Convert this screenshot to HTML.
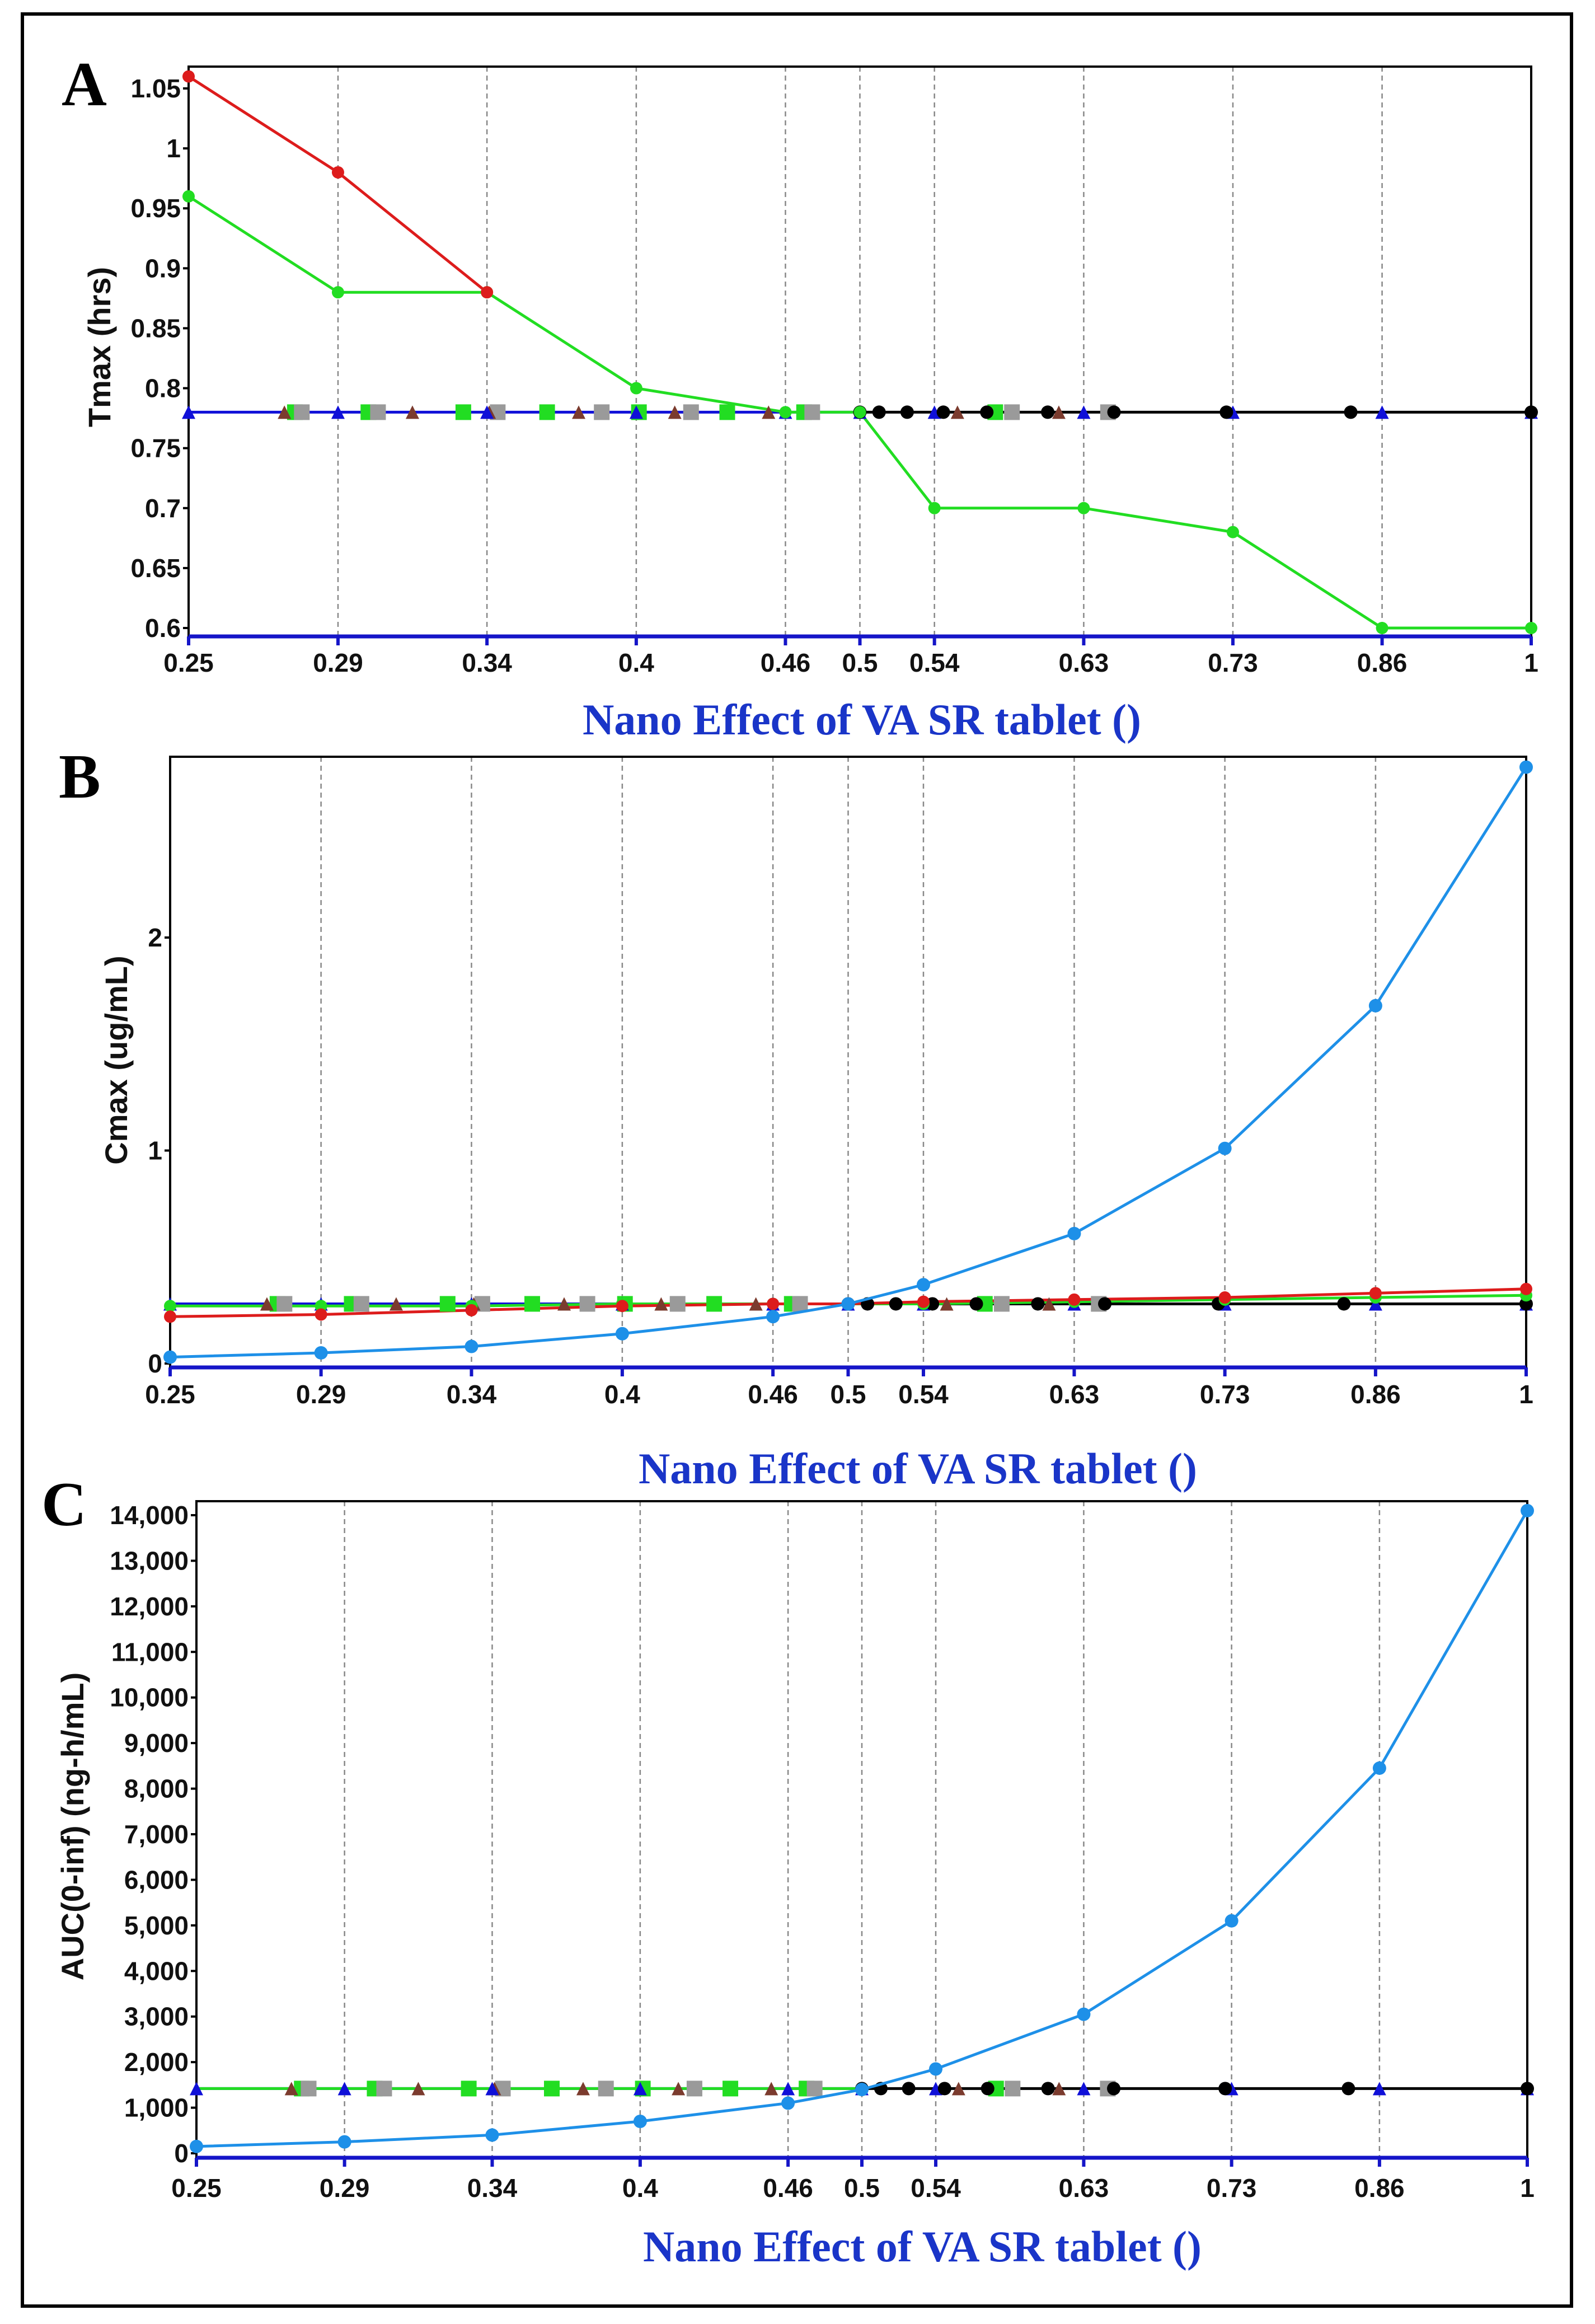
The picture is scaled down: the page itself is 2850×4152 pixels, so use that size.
<!DOCTYPE html>
<html><head><meta charset="utf-8">
<style>
html,body{margin:0;padding:0;background:#fff;}
svg{display:block;}
</style></head>
<body>
<svg id="fig" width="2850" height="4152" viewBox="0 0 2850 4152" xmlns="http://www.w3.org/2000/svg">
<rect x="0" y="0" width="2850" height="4152" fill="#fff"/>
<rect x="40" y="25" width="2768" height="4095" fill="none" stroke="#000" stroke-width="6"/>
</svg>
<script>
// shared x categories (nano effect)
const xTicks = [0.25,0.2917,0.3402,0.3969,0.463,0.5,0.54,0.63,0.7349,0.8573,1];
const xTickLabels = ["0.25","0.29","0.34","0.4","0.46","0.5","0.54","0.63","0.73","0.86","1"];
// scatter marker positions along flat baseline
const greenSqX = [0.279,0.301,0.332,0.362,0.398,0.436,0.472,0.575];
const brownTriX = [0.276,0.315,0.341,0.374,0.413,0.455,0.553,0.614];
const graySqX = [0.281,0.304,0.344,0.383,0.42,0.476,0.585,0.646];
const blackDotX = [0.5,0.51,0.525,0.545,0.57,0.607,0.65,0.73,0.83,1];
// Panel A (Tmax)
const aTicks = [1.05,1,0.95,0.9,0.85,0.8,0.75,0.7,0.65,0.6];
const aTickLabels = ["1.05","1","0.95","0.9","0.85","0.8","0.75","0.7","0.65","0.6"];
const aRedX = [0.25,0.2917,0.3402];
const aRed = [1.06,0.98,0.88];
const aGreen = [0.96,0.88,0.88,0.80,0.78,0.78,0.70,0.70,0.68,0.60,0.60];
const aBase = 0.78;
// Panel B (Cmax)
const bTicks = [0,1,2];
const bTickLabels = ["0","1","2"];
const bLightBlue = [0.03,0.05,0.08,0.14,0.22,0.28,0.37,0.61,1.01,1.68,2.8];
const bRed = [0.22,0.23,0.25,0.27,0.28,0.28,0.29,0.30,0.31,0.33,0.35];
const bGreen = [0.27,0.27,0.27,0.28,0.28,0.28,0.28,0.29,0.30,0.31,0.32];
const bBase = 0.28;
// Panel C (AUC)
const cTicks = [0,1000,2000,3000,4000,5000,6000,7000,8000,9000,10000,11000,12000,13000,14000];
const cTickLabels = ["0","1,000","2,000","3,000","4,000","5,000","6,000","7,000","8,000","9,000","10,000","11,000","12,000","13,000","14,000"];
const cLightBlue = [150,250,400,700,1100,1400,1850,3050,5100,8450,14100];
const cBase = 1420;

const NS="http://www.w3.org/2000/svg";
const svg=document.getElementById('fig');
function el(tag,attrs,parent,txt){const e=document.createElementNS(NS,tag);for(const k in attrs)e.setAttribute(k,attrs[k]);if(txt!==undefined)e.textContent=txt;(parent||svg).appendChild(e);return e;}

function makePanel(cfg){
  const g=el('g',{});
  
  
  const L=cfg.left,R=cfg.right,T=cfg.top,B=cfg.bottom;
  const xs=v=>L+(R-L)*Math.log(v/0.25)/Math.log(4);
  const ys=v=>cfg.y1px+(v-cfg.y1)*(cfg.y2px-cfg.y1px)/(cfg.y2-cfg.y1);
  xTicks.forEach((t,i)=>{ if(i===0||i===xTicks.length-1) return;
    const ln=el('line',{x1:xs(t),x2:xs(t),y1:T,y2:B,stroke:'#888','stroke-width':2.5,'stroke-dasharray':'9,7'},g);
    
    
  });
  const fr=el('path',{d:`M${L},${B} L${L},${T} L${R},${T} L${R},${B}`,fill:'none',stroke:'#000','stroke-width':4},g);
  
  
  const xa=el('line',{x1:L,x2:R,y1:B,y2:B,stroke:'#1515c8','stroke-width':7},g);
  
  
  xTicks.forEach((t,i)=>{
    el('line',{x1:xs(t),x2:xs(t),y1:B,y2:B+16,stroke:'#1515c8','stroke-width':6},g);
    const tx=el('text',{x:xs(t),y:B+cfg.xlOff,'text-anchor':'middle','font-family':'Liberation Sans, sans-serif','font-weight':'bold','font-size':46,fill:'#111'},g,xTickLabels[i]);
    
    
  });
  cfg.yTicks.forEach((t,i)=>{
    const y=ys(t);
    el('line',{x1:L-10,x2:L,y1:y,y2:y,stroke:'#000','stroke-width':4},g);
    const tx=el('text',{x:L-14,y:y+16,'text-anchor':'end','font-family':'Liberation Sans, sans-serif','font-weight':'bold','font-size':46,fill:'#111'},g,cfg.yLabels[i]);
    
    
  });
  const yt=el('text',{x:cfg.ytx,y:cfg.yty,transform:`rotate(-90 ${cfg.ytx} ${cfg.yty})`,'text-anchor':'middle','dominant-baseline':'middle','font-family':'Liberation Sans, sans-serif','font-weight':'bold','font-size':56,fill:'#111'},g,cfg.ytitle);
  
  
  const xt=el('text',{x:cfg.xtx,y:cfg.xty,'text-anchor':'middle','font-family':'Liberation Serif, serif','font-weight':'bold','font-size':78,fill:'#1a35c8'},g,'Nano Effect of VA SR tablet ()');
  
  
  const pl=el('text',{x:cfg.lx,y:cfg.ly,'font-family':'Liberation Serif, serif','font-weight':'bold','font-size':112,fill:'#000'},g,cfg.letter);
  
  

  function line(xv,yv,color,w,name){
    const d=xv.map((x,i)=>(i?'L':'M')+xs(x).toFixed(1)+','+ys(yv[i]).toFixed(1)).join(' ');
    const p=el('path',{d,fill:'none',stroke:color,'stroke-width':w,'stroke-linejoin':'round'},g);
    
    
  }
  function dot(x,y,color,r,name){const c=el('circle',{cx:xs(x),cy:ys(y),r,fill:color},g);
    
    }
  function sq(x,y,color,s,name){const c=el('rect',{x:xs(x)-s/2,y:ys(y)-s/2,width:s,height:s,fill:color},g);
    
    }
  function tri(x,y,color,s,name){const cx=xs(x),cy=ys(y);const c=el('polygon',{points:`${cx},${cy-s/2} ${cx-s/2},${cy+s/2} ${cx+s/2},${cy+s/2}`,fill:color},g);
    
    }

  const base=cfg.base;
  line([0.25,0.5],[base,base],'#1010d8',5,'blue-baseline');
  line([0.5,1],[base,base],'#000',5,'black-baseline');
  if(cfg.green) line(xTicks,cfg.green,'#22dd22',5,'green-series');
  else line([0.25,0.5],[base,base],'#22dd22',5,'green-series');
  if(cfg.red) line(cfg.redX||xTicks,cfg.red,'#dd1c1c',5,'red-series');
  greenSqX.forEach(x=>sq(x,base,'#22dd22',28,'green-square-marker'));
  graySqX.forEach(x=>sq(x,base,'#9a9a9a',28,'gray-square-marker'));
  brownTriX.forEach(x=>tri(x,base,'#7b3b2e',24,'brown-triangle-marker'));
  xTicks.forEach(x=>tri(x,base,'#1010d8',24,'blue-triangle-marker'));
  blackDotX.forEach(x=>dot(x,base,'#000',12,'black-dot-marker'));
  if(cfg.green) xTicks.forEach((x,i)=>dot(x,cfg.green[i],'#22dd22',11,'green-point'));
  if(cfg.red) (cfg.redX||xTicks).forEach((x,i)=>dot(x,cfg.red[i],'#dd1c1c',11,'red-point'));
  if(cfg.lb){ line(xTicks,cfg.lb,'#1e90e8',5,'lightblue-series');
    xTicks.forEach((x,i)=>dot(x,cfg.lb[i],'#1e90e8',12,'lightblue-point')); }
}

makePanel({name:'panel-a-tmax',letter:'A',lx:110,ly:188,left:337,right:2736,top:119,bottom:1137,
  y1:1.05,y1px:158,y2:0.6,y2px:1122,yTicks:aTicks,yLabels:aTickLabels,ytitle:'Tmax (hrs)',ytx:182,yty:620,
  xtx:1540,xty:1312,xlOff:63,base:aBase,green:aGreen,red:aRed,redX:aRedX});
makePanel({name:'panel-b-cmax',letter:'B',lx:105,ly:1425,left:304,right:2727,top:1352,bottom:2443,
  y1:0,y1px:2436,y2:2,y2px:1675,yTicks:bTicks,yLabels:bTickLabels,ytitle:'Cmax (ug/mL)',ytx:212,yty:1894,
  xtx:1640,xty:2650,xlOff:64,base:bBase,green:bGreen,red:bRed,lb:bLightBlue});
makePanel({name:'panel-c-auc',letter:'C',lx:74,ly:2725,left:351,right:2729,top:2682,bottom:3855,
  y1:0,y1px:3847,y2:14000,y2px:2707,yTicks:cTicks,yLabels:cTickLabels,ytitle:'AUC(0-inf) (ng-h/mL)',ytx:134,yty:3263,
  xtx:1648,xty:4040,xlOff:70,base:cBase,lb:cLightBlue});
</script>
</body></html>
